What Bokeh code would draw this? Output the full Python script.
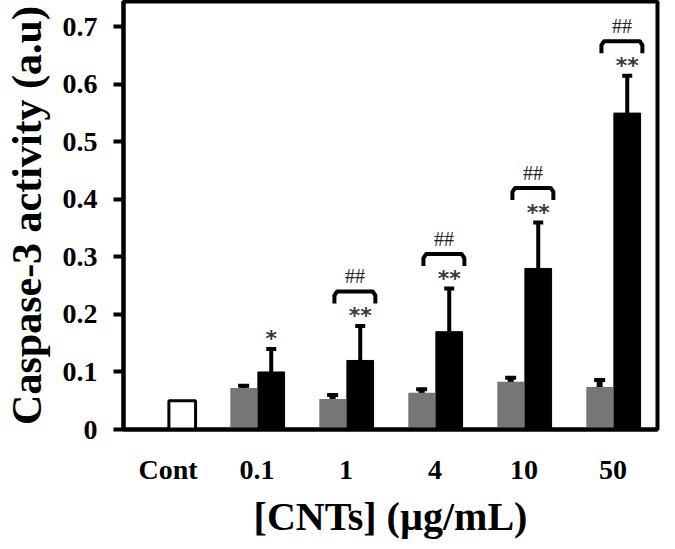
from bokeh.plotting import figure
from bokeh.models import FixedTicker, Whisker, ColumnDataSource, TeeHead, Range1d
from bokeh.core.properties import value
from bokeh.embed import file_html
from bokeh.resources import INLINE

# ---- data ----
categories = ["Cont", "0.1", "1", "4", "10", "50"]
control_value = 0.05
gray_values = [0.072, 0.053, 0.064, 0.083, 0.074]
gray_errors = [0.004, 0.007, 0.006, 0.007, 0.012]
black_values = [0.10, 0.12, 0.17, 0.28, 0.55]
black_errors = [0.04, 0.06, 0.075, 0.08, 0.065]
star_marks = ["*", "**", "**", "**", "**"]
hash_marks = ["", "##", "##", "##", "##"]
y_ticks = [0, 0.1, 0.2, 0.3, 0.4, 0.5, 0.6, 0.7]
y_tick_labels = ["0", "0.1", "0.2", "0.3", "0.4", "0.5", "0.6", "0.7"]

FONT = "Liberation Serif"
GRAY = "#767676"

p = figure(width=667, height=541, output_backend="svg", toolbar_location=None,
           x_range=Range1d(-0.5, 5.5), y_range=Range1d(0, 0.744),
           min_border_left=114, min_border_right=10, min_border_top=1, min_border_bottom=109)
p.xgrid.visible = False
p.ygrid.visible = False
p.outline_line_color = "black"
p.outline_line_width = 4
p.background_fill_color = "white"
p.border_fill_color = "white"

n = len(categories)
idx = list(range(1, n))
GOFF, BOFF, W = -0.15, 0.16, 0.3

# control bar
p.vbar(x=[0 + BOFF], top=[control_value], width=W, fill_color="white",
       line_color="black", line_width=3)

gx = [i + GOFF for i in idx]
bx = [i + BOFF for i in idx]
p.vbar(x=gx, top=gray_values, width=W, fill_color=GRAY, line_color=None)
p.vbar(x=bx, top=black_values, width=W, fill_color="black", line_color="black", line_width=1)

# gray error bars (both directions)
gsrc = ColumnDataSource(dict(x=gx,
                             lo=[v - e for v, e in zip(gray_values, gray_errors)],
                             hi=[v + e for v, e in zip(gray_values, gray_errors)]))
p.add_layout(Whisker(source=gsrc, base="x", lower="lo", upper="hi", line_width=6,
                     line_color="black",
                     upper_head=TeeHead(size=11, line_width=4, line_color="black"),
                     lower_head=TeeHead(size=11, line_width=4, line_color="black")))

# black error bars (upward)
btop = [v + e for v, e in zip(black_values, black_errors)]
bsrc = ColumnDataSource(dict(x=bx, lo=black_values, hi=btop))
p.add_layout(Whisker(source=bsrc, base="x", lower="lo", upper="hi", line_width=4,
                     line_color="black",
                     upper_head=TeeHead(size=10, line_width=4, line_color="black"),
                     lower_head=None))

# significance marks
star_y = [t + 0.018 for t in btop]
p.text(x=bx, y=star_y, text=star_marks, text_font=value("DejaVu Sans"), text_font_size="22px",
       text_font_style="bold", text_color="#3a3a3a", text_align="center",
       text_baseline="middle")

hx, hy, bxs, bys = [], [], [], []
hs = []
for i, t, h in zip(idx, btop, hash_marks):
    if not h:
        continue
    c = i + 0.1
    top = t + 0.06
    x0, x1 = c - 0.23, c + 0.23
    bxs.append([x0, x0, x0 + 0.03, x1 - 0.03, x1, x1])
    bys.append([top - 0.021, top - 0.007, top, top, top - 0.007, top - 0.021])
    hx.append(c)
    hy.append(top + 0.026)
    hs.append(h)
p.multi_line(xs=bxs, ys=bys, line_color="black", line_width=4, line_join="round",
             line_cap="butt")
p.text(x=hx, y=hy, text=hs, text_font=value(FONT), text_font_size="20px",
       text_color="#222222", text_align="center", text_baseline="middle")

# axes
p.xaxis.ticker = FixedTicker(ticks=list(range(n)))
p.xaxis.major_label_overrides = {i: c for i, c in enumerate(categories)}
p.xaxis.major_tick_line_color = None
p.xaxis.minor_tick_line_color = None
p.xaxis.axis_line_width = 4
p.xaxis.major_label_standoff = 18
p.xaxis.axis_label = "[CNTs] (µg/mL)"
p.xaxis.axis_label_standoff = 6

p.yaxis.ticker = FixedTicker(ticks=y_ticks)
p.yaxis.major_label_overrides = {t: l for t, l in zip(y_ticks, y_tick_labels)}
p.yaxis.major_tick_out = 10
p.yaxis.major_tick_in = 0
p.yaxis.major_tick_line_width = 4
p.yaxis.minor_tick_line_color = None
p.yaxis.axis_line_width = 4
p.yaxis.major_label_standoff = 16
p.yaxis.axis_label = "Caspase-3 activity (a.u)"
p.yaxis.axis_label_standoff = 10

for ax in (p.xaxis, p.yaxis):
    ax.major_label_text_font = FONT
    ax.major_label_text_font_style = "bold"
    ax.major_label_text_font_size = "28px"
    ax.major_label_text_color = "black"
    ax.axis_label_text_font = FONT
    ax.axis_label_text_font_style = "bold"
    ax.axis_label_text_color = "black"
    ax.axis_line_color = "black"
p.xaxis.axis_label_text_font_size = "40px"
p.yaxis.axis_label_text_font_size = "42px"

open("out.html", "w").write(file_html(p, INLINE))
